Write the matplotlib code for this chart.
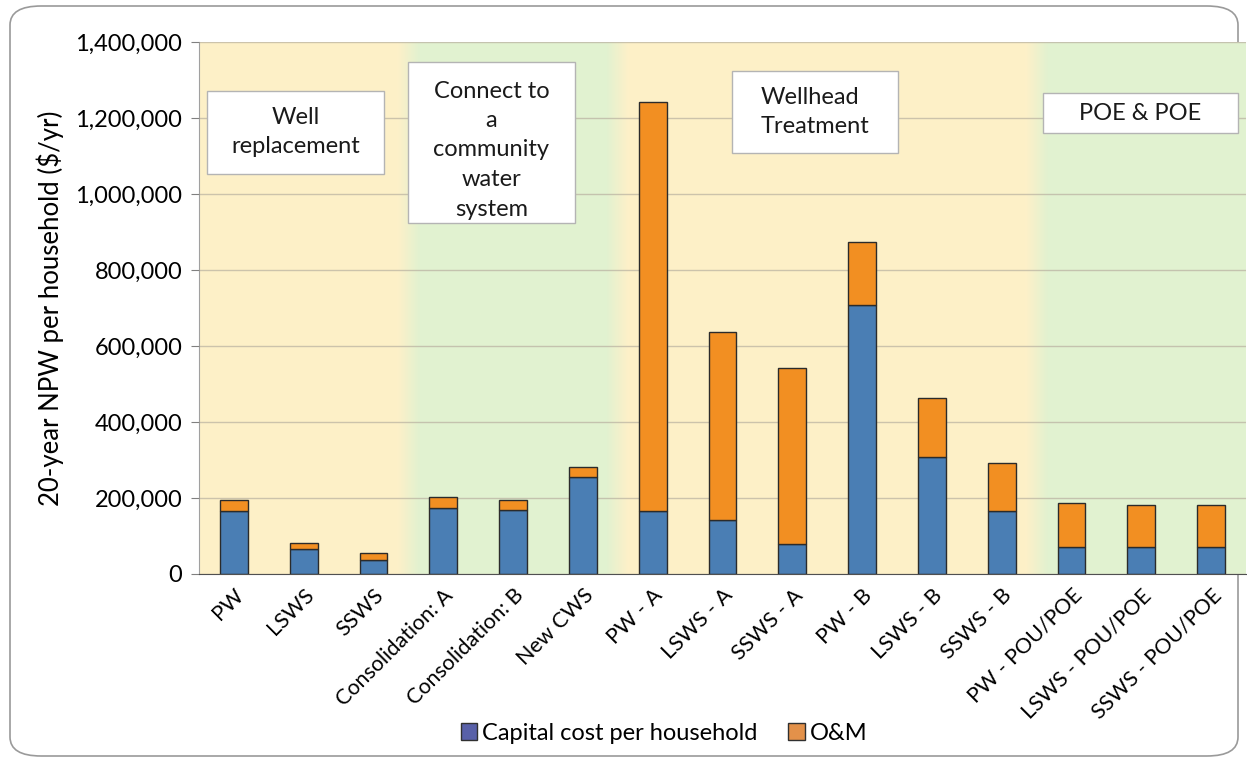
import numpy as np
import matplotlib.pyplot as plt
from matplotlib.colors import to_rgb
from matplotlib.patches import Rectangle, FancyBboxPatch, Patch

plt.rcParams["font.family"] = ["Lato", "DejaVu Sans"]

categories = [
    "PW", "LSWS", "SSWS", "Consolidation: A", "Consolidation: B", "New CWS",
    "PW - A", "LSWS - A", "SSWS - A", "PW - B", "LSWS - B", "SSWS - B",
    "PW - POU/POE", "LSWS - POU/POE", "SSWS - POU/POE",
]
capital = [166000, 65000, 38000, 175000, 168000, 254000,
           166000, 142000, 78000, 708000, 307000, 166000,
           70000, 70000, 70000]
om = [29000, 17000, 16000, 28000, 28000, 28000,
      1076000, 496000, 463000, 166000, 155000, 125000,
      116000, 112000, 112000]

# shaded groups: (first index, last index, colour key)
groups = [(0, 2, "orange"), (3, 5, "green"), (6, 11, "orange"), (12, 14, "green")]
group_labels = ["Well\nreplacement", "Connect to\na\ncommunity\nwater\nsystem",
                "Wellhead\nTreatment", "POE & POE"]

BG = {"orange": "#fef0c8", "green": "#e2f2d0"}
BLUE = "#4a7eb4"
ORANGE = "#f28f22"

W, H = 1247, 759
fig = plt.figure(figsize=(W / 100, H / 100), dpi=100)
ax = fig.add_axes([199 / W, (H - 574) / H, 1047 / W, 532 / H])

# outer rounded frame
frame = FancyBboxPatch((10 / W, 3 / H), 1228 / W, 750 / H,
                       boxstyle="round,pad=0,rounding_size=0.025",
                       transform=fig.transFigure, facecolor="none",
                       edgecolor="#9a9a9a", linewidth=1.2, zorder=-1)
fig.add_artist(frame)

# background bands with soft edges
xs = np.linspace(-0.5, 14.5, 1500)
cols = np.zeros((len(xs), 3))
for g0, g1, key in groups:
    m = (xs >= g0 - 0.5) & (xs < g1 + 0.5)
    cols[m] = to_rgb(BG[key])
cols[-1] = cols[-2]
k = np.ones(31) / 31
padded = np.pad(cols, ((15, 15), (0, 0)), mode="edge")
cols = np.stack([np.convolve(padded[:, c], k, mode="valid") for c in range(3)], axis=1)
ax.imshow(cols[np.newaxis, :, :], extent=(-0.5, 14.5, 0, 1.4e6),
          aspect="auto", zorder=0, interpolation="bilinear")

x = np.arange(len(categories))
ax.bar(x, capital, width=0.4, color=BLUE, edgecolor="#2b2b2b", linewidth=1.0, zorder=3)
ax.bar(x, om, width=0.4, bottom=capital, color=ORANGE, edgecolor="#2b2b2b",
       linewidth=1.0, zorder=3)

ax.set_xlim(-0.5, 14.5)
ax.set_ylim(0, 1400000)
ax.set_yticks(np.arange(0, 1400001, 200000))
ax.yaxis.set_major_formatter(plt.FuncFormatter(lambda v, p: f"{int(v):,}"))
ax.yaxis.grid(True, color="#b8b0a0", linewidth=1.0, alpha=0.7, zorder=1)
ax.set_axisbelow(False)
for gl in ax.get_ygridlines():
    gl.set_zorder(1)

ax.set_xticks(x)
ax.set_xticklabels(categories, rotation=45, ha="right", va="top",
                   rotation_mode="anchor", fontsize=15.5)
ax.tick_params(axis="x", length=0, pad=8)
ax.tick_params(axis="y", length=6, color="#808080", labelsize=17, pad=6)
ax.set_ylabel("20-year NPW per household ($/yr)", fontsize=18.5, labelpad=8)

for s in ["top", "right"]:
    ax.spines[s].set_visible(False)
ax.spines["left"].set_color("#a0a0a0")
ax.spines["bottom"].set_color("#505050")
ax.spines["bottom"].set_zorder(4)

# group label boxes in pixels: left, top, right, bottom, text centre y
boxes = [(207, 91, 384, 174, 132), (408, 62, 575, 223, 150),
         (732, 71, 898, 153, 112), (1043, 93, 1238, 133, 113)]
for (l, t, r, b, ty), label in zip(boxes, group_labels):
    fig.add_artist(Rectangle((l / W, (H - b) / H), (r - l) / W, (b - t) / H,
                             transform=fig.transFigure, facecolor="white",
                             edgecolor="#b4b4b4", linewidth=1.0, zorder=5))
    ha = "left" if label.startswith("Wellhead") else "center"
    fig.text((l + r) / 2 / W, (H - ty) / H, label, ha="center", va="center",
             multialignment=ha, fontsize=17, linespacing=1.5, zorder=6,
             color="#1a1a1a")

handles = [Patch(facecolor="#5860a8", edgecolor="#303030"),
           Patch(facecolor="#e3914a", edgecolor="#303030")]
fig.legend(handles, ["Capital cost per household", "O&M"], loc="center",
           bbox_to_anchor=(664 / W, 26 / H), ncol=2, frameon=False, fontsize=17,
           handlelength=0.7, handleheight=0.7, handletextpad=0.2, columnspacing=1.3)

fig.savefig("out.png", dpi=100)
